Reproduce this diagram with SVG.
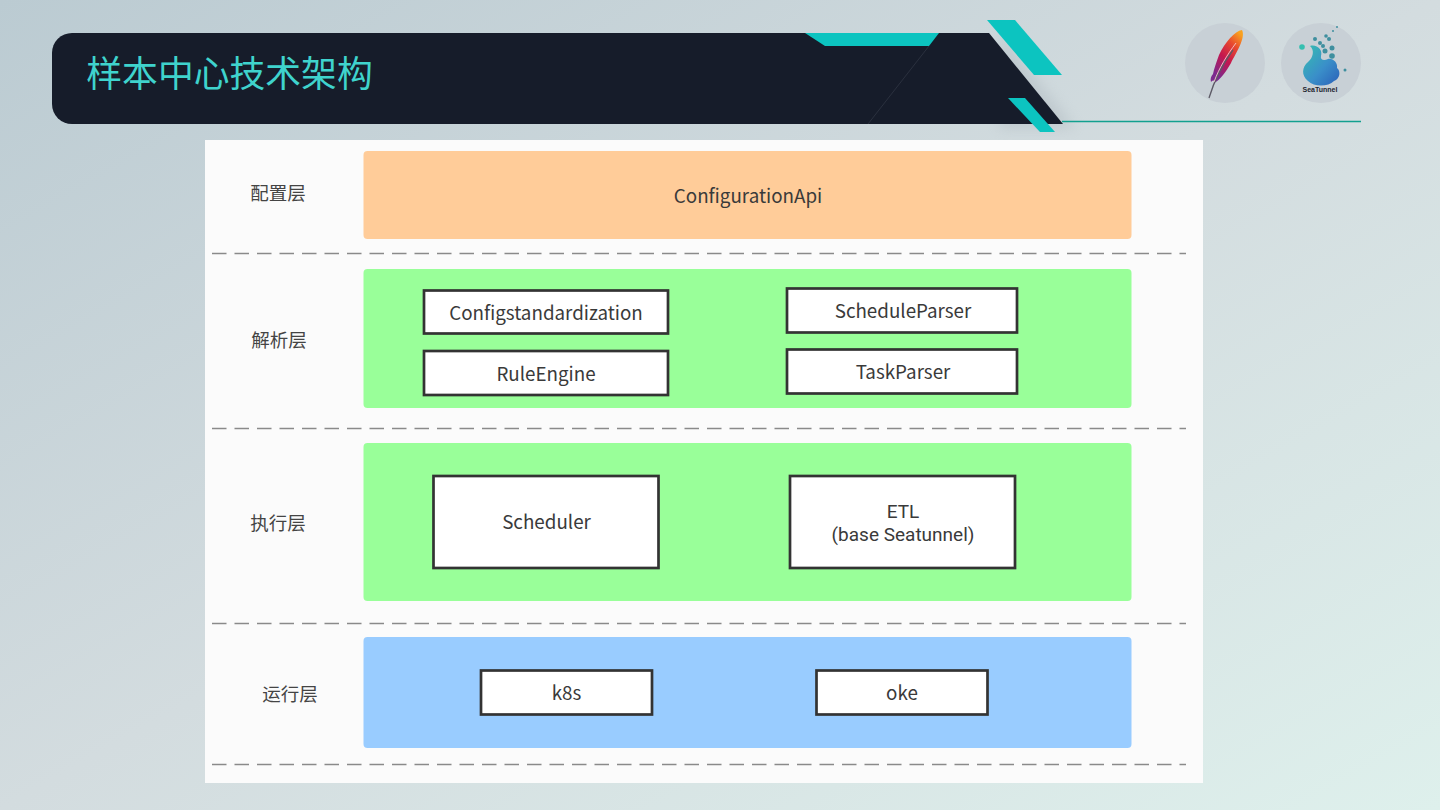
<svg xmlns="http://www.w3.org/2000/svg" width="1440" height="810" viewBox="0 0 1440 810">
<defs>
<linearGradient id="bg" x1="0" y1="0" x2="1" y2="1"><stop offset="0" stop-color="#bbcbd2"/><stop offset="0.5" stop-color="#d3dcdf"/><stop offset="1" stop-color="#def0ec"/></linearGradient>
<linearGradient id="feather" x1="0.8" y1="0" x2="0.2" y2="1"><stop offset="0" stop-color="#f9a11f"/><stop offset="0.25" stop-color="#e8492f"/><stop offset="0.55" stop-color="#c4164f"/><stop offset="0.9" stop-color="#7b2a8e"/></linearGradient>
<linearGradient id="sea" x1="0" y1="0" x2="1" y2="1"><stop offset="0" stop-color="#35bfb0"/><stop offset="0.55" stop-color="#3a8fc9"/><stop offset="1" stop-color="#2a5fb8"/></linearGradient>
<filter id="soft" x="-20%" y="-40%" width="140%" height="180%"><feGaussianBlur stdDeviation="7"/></filter>
</defs>
<style>
text{font-family:"Noto Sans CJK SC","Noto Sans",sans-serif;fill:#3a3a3a;text-anchor:middle}
.box{fill:#fff;stroke:#333;stroke-width:2.700}
.band{stroke:none}
.dash{fill:none;stroke:#8a8a8a;stroke-width:1.300;stroke-dasharray:14.5 8}
.lbl{font-size:18.500px;fill:#444}
.t{font-size:18.800px}
.tight{font-family:Roboto,sans-serif;font-size:19px}
.teal{fill:#0cc4c0}
</style>
<rect width="1440" height="810" fill="url(#bg)"/>
<g id="header">
<path d="M1000 34L1075 128L1000 128Z" fill="#9aa3ab" opacity="0.3" filter="url(#soft)"/>
<path d="M72 33H989L1063 124H72A20 20 0 0 1 52 104V53A20 20 0 0 1 72 33Z" fill="#161c2a"/>
<path class="teal" d="M805 33H939L929 46H825Z"/>
<path d="M929 46L868 124" stroke="#2a303e" stroke-width="1" fill="none"/>
<path class="teal" d="M987 20H1015L1062 75H1034Z"/>
<path class="teal" d="M1008 98H1025L1055 132H1040Z"/>
<path d="M1062 121.500H1361" stroke="#12a08f" stroke-width="1.300" fill="none"/>
<text x="229.500" y="87" style="font-size:35.800px;fill:#3fd3cd">样本中心技术架构</text>
</g>
<g id="logo-apache">
<circle cx="1225" cy="63" r="40" fill="#c8d0d6"/>
<path d="M1242 30C1235 31 1225 42 1219 55C1216 63 1214 69 1213 74C1211 76 1210 79 1211 82C1214 79 1215 81 1214 83C1220 80 1226 72 1231 63C1236 53 1246 38 1242 30Z" fill="url(#feather)"/>
<path d="M1233 50C1224 62 1215 78 1209 98" stroke="#5c5a66" stroke-width="1.300" fill="none"/>
<path d="M1236 43C1227 55 1219 68 1214 82" stroke="#f6c9d0" stroke-width="0.900" fill="none"/>
</g>
<g id="logo-seatunnel">
<circle cx="1321" cy="63" r="40" fill="#c8d0d6"/>
<path d="M1310 46C1317 44 1323 50 1321 56C1320 60 1324 61 1328 59C1333 58 1338 63 1337 68C1341 71 1340 79 1334 81C1328 87 1314 87 1308 81C1301 75 1302 67 1308 62C1313 58 1315 50 1310 46Z" fill="url(#sea)"/>
<g fill="#3f8f9f">
<circle cx="1302" cy="47" r="2.800" fill="#35bfb0"/><circle cx="1315" cy="39" r="2"/><circle cx="1320" cy="43" r="2"/><circle cx="1326" cy="36" r="1.800"/><circle cx="1323" cy="46" r="2"/><circle cx="1329" cy="39" r="2"/><circle cx="1325" cy="51" r="2.500"/><circle cx="1332" cy="48" r="2.500"/><circle cx="1332" cy="56" r="2.800"/><circle cx="1345" cy="70" r="1.500"/><circle cx="1333" cy="31" r="1"/><circle cx="1337" cy="27" r="1"/>
</g>
<text x="1320" y="92" style="font-size:7px;font-weight:700;fill:#1e2530;font-family:'Liberation Sans',sans-serif">SeaTunnel</text>
</g>
<g id="panel"><rect x="205" y="140" width="998" height="643" fill="#fbfbfb"/></g>
<g id="connectors">
<path class="dash" d="M212 253.500H1186"/>
<path class="dash" d="M212 428.500H1186"/>
<path class="dash" d="M212 623.500H1186"/>
<path class="dash" d="M212 764.500H1186"/>
</g>
<g id="layer-config">
<rect class="band" x="363.500" y="151" width="768" height="88" rx="4" fill="#ffcc99"/>
<text class="lbl" x="278" y="200">配置层</text>
<text class="t" x="748" y="202.500">ConfigurationApi</text>
</g>
<g id="layer-parse">
<rect class="band" x="363.500" y="269" width="768" height="139" rx="4" fill="#99ff99"/>
<text class="lbl" x="279" y="346.500">解析层</text>
</g>
<g id="node-configstandardization"><rect class="box" x="424" y="290.500" width="244" height="43"/><text class="t" x="546" y="320">Configstandardization</text></g>
<g id="node-ruleengine"><rect class="box" x="424" y="351" width="244" height="44"/><text class="t" x="546" y="381">RuleEngine</text></g>
<g id="node-scheduleparser"><rect class="box" x="787" y="288.500" width="230" height="44"/><text class="t" x="903" y="318">ScheduleParser</text></g>
<g id="node-taskparser"><rect class="box" x="787" y="349.500" width="230" height="44"/><text class="t" x="903" y="379">TaskParser</text></g>
<g id="layer-exec">
<rect class="band" x="363.500" y="443" width="768" height="158" rx="4" fill="#99ff99"/>
<text class="lbl" x="278" y="530">执行层</text>
</g>
<g id="node-scheduler"><rect class="box" x="433.500" y="476" width="225" height="92"/><text class="t" x="546.500" y="529">Scheduler</text></g>
<g id="node-etl"><rect class="box" x="790" y="476" width="225" height="92"/><text class="tight" x="903" y="518">ETL</text><text class="tight" x="903" y="541">(base Seatunnel)</text></g>
<g id="layer-run">
<rect class="band" x="363.500" y="637" width="768" height="111" rx="4" fill="#99ccff"/>
<text class="lbl" x="290" y="700.500">运行层</text>
</g>
<g id="node-k8s"><rect class="box" x="481" y="670.500" width="171" height="44"/><text class="t" x="566.500" y="700">k8s</text></g>
<g id="node-oke"><rect class="box" x="816.500" y="670.500" width="171" height="44"/><text class="t" x="902" y="700">oke</text></g>
</svg>
